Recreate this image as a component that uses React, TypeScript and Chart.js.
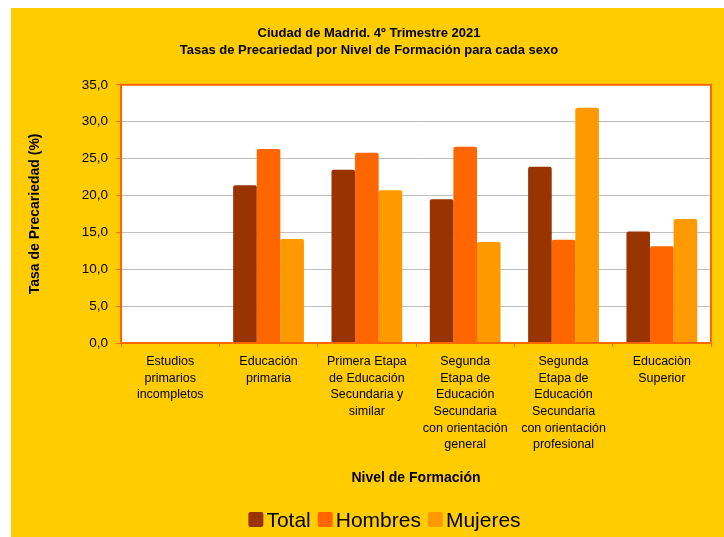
import React, { useEffect, useRef } from "react";
import { Chart, registerables } from "chart.js";

Chart.register(...registerables);

const categories: string[][] = [
  ["Estudios", "primarios", "incompletos"],
  ["Educación", "primaria"],
  ["Primera Etapa", "de Educación", "Secundaria y", "similar"],
  ["Segunda", "Etapa de", "Educación", "Secundaria", "con orientación", "general"],
  ["Segunda", "Etapa de", "Educación", "Secundaria", "con orientación", "profesional"],
  ["Educaciòn", "Superior"],
];
const totalValues = [0, 21.4, 23.5, 19.5, 23.9, 15.1];
const hombresValues = [0, 26.3, 25.8, 26.6, 14.0, 13.1];
const mujeresValues = [0, 14.1, 20.7, 13.7, 31.9, 16.8];
const seriesNames = ["Total", "Hombres", "Mujeres"];
const seriesColors = ["#993300", "#FF6600", "#FF9900"];
const titleLines = ["Ciudad de Madrid. 4º Trimestre 2021", "Tasas de Precariedad por Nivel de Formación para cada sexo"];

const FONT = "'Liberation Sans', Arial, sans-serif";

const framePlugin = {
  id: "frame",
  beforeDraw(chart: any) {
    const { ctx, chartArea } = chart;
    ctx.save();
    ctx.fillStyle = "#FFFFFF";
    ctx.fillRect(chartArea.left, chartArea.top, chartArea.right - chartArea.left, chartArea.bottom - chartArea.top);
    ctx.restore();
  },
  afterDraw(chart: any) {
    const { ctx, chartArea } = chart;
    ctx.save();
    ctx.strokeStyle = "#FF6600";
    ctx.lineWidth = 2;
    ctx.strokeRect(chartArea.left, chartArea.top, chartArea.right - chartArea.left, chartArea.bottom - chartArea.top);
    ctx.restore();
  },
};

// Legend drawn compactly (box, small gap, text) like the reference
const legendPlugin = {
  id: "compactLegend",
  afterDraw(chart: any) {
    const { ctx } = chart;
    const fontSize = 21;
    const box = 15;
    const gapText = 3;
    const gapItem = 7;
    ctx.save();
    ctx.font = `${fontSize}px ${FONT}`;
    const items = chart.data.datasets.map((d: any) => ({
      label: d.label as string,
      color: d.backgroundColor as string,
      w: ctx.measureText(d.label).width,
    }));
    const total = items.reduce((s: number, it: any) => s + box + gapText + it.w, 0) + gapItem * (items.length - 1);
    let x = chart.width / 2 + 17 - total / 2;
    const baseline = chart.height - 10;
    const boxTop = baseline - 15;
    items.forEach((it: any) => {
      ctx.fillStyle = it.color;
      ctx.beginPath();
      (ctx as any).roundRect(x, boxTop, box, box, 2);
      ctx.fill();
      x += box + gapText;
      ctx.fillStyle = "#000000";
      ctx.textBaseline = "alphabetic";
      ctx.textAlign = "left";
      ctx.fillText(it.label, x, baseline);
      x += it.w + gapItem;
    });
    ctx.restore();
  },
};

export default function App() {
  const ref = useRef<HTMLCanvasElement>(null);
  useEffect(() => {
    if (!ref.current) return;
    const chart = new Chart(ref.current, {
      type: "bar",
      data: {
        labels: categories,
        datasets: seriesNames.map((name, i) => ({
          label: name,
          data: [totalValues, hombresValues, mujeresValues][i],
          backgroundColor: seriesColors[i],
          borderRadius: 2,
          borderSkipped: "bottom",
        })),
      },
      options: {
        animation: false,
        responsive: true,
        maintainAspectRatio: false,
        layout: { padding: { left: 16, right: 13, top: 12, bottom: 38 } },
        datasets: { bar: { categoryPercentage: 0.72, barPercentage: 1 } },
        plugins: {
          title: {
            display: true,
            text: titleLines,
            color: "#000000",
            font: { family: FONT, size: 13, weight: "bold", lineHeight: 1.3 },
            padding: { top: 5, bottom: 26 },
          },
          legend: { display: false },
          tooltip: { enabled: false },
        },
        scales: {
          x: {
            grid: {
              offset: true,
              drawOnChartArea: false,
              color: "#FF6600",
              tickColor: "#FF6600",
              tickLength: 4,
            },
            border: { color: "#FF6600", width: 2 },
            ticks: {
              color: "#000000",
              font: { family: FONT, size: 12.5, lineHeight: 1.336 },
              maxRotation: 0,
              autoSkip: false,
              padding: 6,
            },
            title: {
              display: true,
              text: "Nivel de Formación",
              color: "#000000",
              font: { family: FONT, size: 14, weight: "bold" },
              padding: { top: 11, bottom: 12 },
            },
          },
          y: {
            min: 0,
            max: 35,
            ticks: {
              stepSize: 5,
              color: "#000000",
              font: { family: FONT, size: 13.5 },
              padding: 8,
              callback: (v: any) => Number(v).toFixed(1).replace(".", ","),
            },
            grid: { color: "#C0C0C0", tickColor: "#FF6600", tickLength: 5, lineWidth: 1 },
            border: { color: "#FF6600", width: 2 },
            title: {
              display: true,
              text: "Tasa de Precariedad (%)",
              color: "#000000",
              font: { family: FONT, size: 14, weight: "bold" },
              padding: { top: 0, bottom: 30 },
            },
          },
        },
      },
      plugins: [framePlugin, legendPlugin],
    });
    return () => chart.destroy();
  }, []);
  return (
    <div style={{ position: "absolute", left: 11, top: 8, width: 713, height: 529, background: "#FFCC00" }}>
      <canvas ref={ref} />
    </div>
  );
}
